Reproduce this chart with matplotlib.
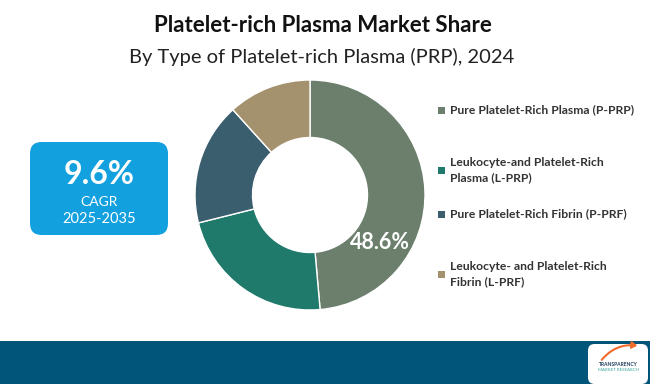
import matplotlib
matplotlib.use("Agg")
import matplotlib.pyplot as plt
from matplotlib.patches import FancyBboxPatch, Rectangle, FancyArrowPatch

plt.rcParams['font.family'] = ['Lato', 'DejaVu Sans']

# 数据
segments = ['Pure Platelet-Rich Plasma (P-PRP)',
            'Leukocyte-and Platelet-Rich\nPlasma (L-PRP)',
            'Pure Platelet-Rich Fibrin (P-PRF)',
            'Leukocyte- and Platelet-Rich\nFibrin (L-PRF)']
shares = [48.6, 22.5, 17.2, 11.7]
colors = ['#6b7f6c', '#1f7a6c', '#3b5e6f', '#a4916e']
title = 'Platelet-rich Plasma Market Share'
subtitle = 'By Type of Platelet-rich Plasma (PRP), 2024'
cagr_value = '9.6%'
cagr_period = '2025-2035'

W, H = 650, 384
fig = plt.figure(figsize=(W / 100, H / 100), dpi=100)
fig.patch.set_facecolor('white')

def px(x, y):
    # 像素坐标 -> figure坐标
    return x / W, 1 - y / H

# 标题
fig.text(*px(323, 25), title, ha='center', va='center', fontsize=16,
         fontweight='bold', color='#111111')
fig.text(*px(322, 57), subtitle, ha='center', va='center', fontsize=14.5,
         color='#222222')

# 环形图
cx, cy, r = 310, 195, 115
ax = fig.add_axes([(cx - r) / W, (H - cy - r) / H, 2 * r / W, 2 * r / H])
ax.pie(shares, colors=colors, startangle=90, counterclock=False, radius=1,
       wedgeprops=dict(width=0.5, edgecolor='white', linewidth=1))
ax.set_xlim(-1, 1)
ax.set_ylim(-1, 1)
ax.axis('off')
ax.text(0.61, -0.41, f'{shares[0]}%', ha='center', va='center', fontsize=15.5,
        fontweight='bold', color='white')

# CAGR 框
bx0, by0, bx1, by1 = 30, 142, 168, 235
box = FancyBboxPatch((bx0 / W, 1 - by1 / H), (bx1 - bx0) / W, (by1 - by0) / H,
                     boxstyle='round,pad=0,rounding_size=0.018',
                     transform=fig.transFigure, facecolor='#12a0de',
                     edgecolor='none', mutation_aspect=W / H)
fig.patches.append(box)
fig.text(*px(99, 174), cagr_value, ha='center', va='center', fontsize=23,
         fontweight='bold', color='white')
fig.text(*px(99, 202), 'CAGR', ha='center', va='center', fontsize=10,
         color='white')
fig.text(*px(99, 219), cagr_period, ha='center', va='center', fontsize=10.5,
         color='white')

# 图例
legend_y = [110, 170, 214, 274]
for label, color, ly in zip(segments, colors, legend_y):
    fig.patches.append(Rectangle((438 / W, 1 - (ly + 3.5) / H), 7 / W, 7 / H,
                                 transform=fig.transFigure, facecolor=color,
                                 edgecolor='none'))
    fig.text(*px(450, ly), label, ha='left', va='center', fontsize=8.7,
             fontweight='bold', color='#333333', linespacing=1.5)

# 底部色带
fig.patches.append(Rectangle((0, 0), 1, (H - 341) / H, transform=fig.transFigure,
                             facecolor='#02557a', edgecolor='none'))
logo = FancyBboxPatch((588 / W, 0), 60 / W, (384 - 344) / H,
                      boxstyle='round,pad=0,rounding_size=0.01',
                      transform=fig.transFigure, facecolor='white',
                      edgecolor='none', mutation_aspect=W / H)
fig.patches.append(logo)
fig.patches.append(FancyArrowPatch(px(600, 362), px(640, 346),
                                   connectionstyle='arc3,rad=-0.3',
                                   arrowstyle='-|>,head_width=2,head_length=3',
                                   color='#f26b2a', lw=1.5,
                                   transform=fig.transFigure))
fig.text(*px(618, 364), 'TRANSPARENCY', ha='center', va='center', fontsize=3.6,
         fontweight='bold', color='#1e3d5c')
fig.text(*px(618, 370), 'MARKET RESEARCH', ha='center', va='center',
         fontsize=3.2, color='#3aa8a0')

fig.savefig('out.png', dpi=100)
